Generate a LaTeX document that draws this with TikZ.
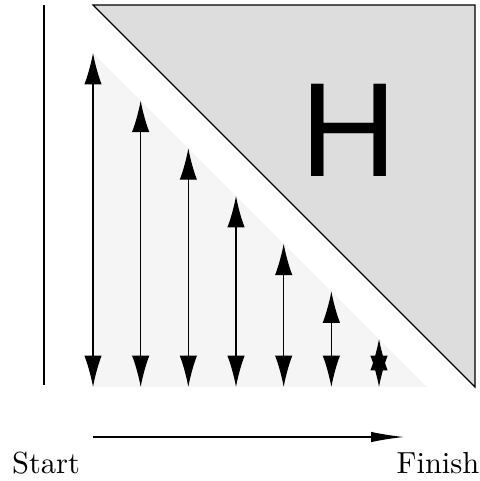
\documentclass[tikz,border=0pt]{standalone}
\usepackage{fontspec}
\newfontfamily\hfont{Liberation Sans}
\usetikzlibrary{arrows.meta}
\begin{document}
\begin{tikzpicture}[x=0.328pt,y=-0.328pt,
  thinline/.style={line width=0.4pt},
  bigarrow/.style={thinline,{Latex[length=10.3pt,width=5.7pt]}-{Latex[length=10.3pt,width=5.7pt]}},
  timearrow/.style={thinline,-{Latex[length=10.8pt,width=3.4pt]}}]
\useasboundingbox (0,0) rectangle (480,481);
% gray triangle
\fill[black!13.5] (93,5) -- (475,5) -- (475,387) -- cycle;
\draw[thinline] (475,387) -- (93,5) -- (475,5) -- cycle;
% light triangle
\fill[black!4] (93,53) -- (93,387) -- (427,387) -- cycle;
% left line
\coordinate (lt) at (44,5);
\coordinate (lb) at (44,385);
\draw[thinline] (lt) -- (lb);
% arrows
\foreach \i in {0,...,6}{
  \coordinate (b\i) at ({93+47.67*\i},387);
  \coordinate (t\i) at ({93+47.67*\i},{53+47.67*\i});
  \draw[bigarrow] (b\i) -- (t\i);
}
\node[font=\hfont\fontsize{44}{44}\selectfont,inner sep=0pt] (H) at (348.5,130) {H};
\coordinate (s) at (93,437);
\coordinate (f) at (404,437);
\draw[timearrow] (s) -- (f);
\node[anchor=base,inner sep=0pt] (start) at (46,473) {Start};
\node[anchor=base,inner sep=0pt] (finish) at (438,473) {Finish};
\end{tikzpicture}
\end{document}
